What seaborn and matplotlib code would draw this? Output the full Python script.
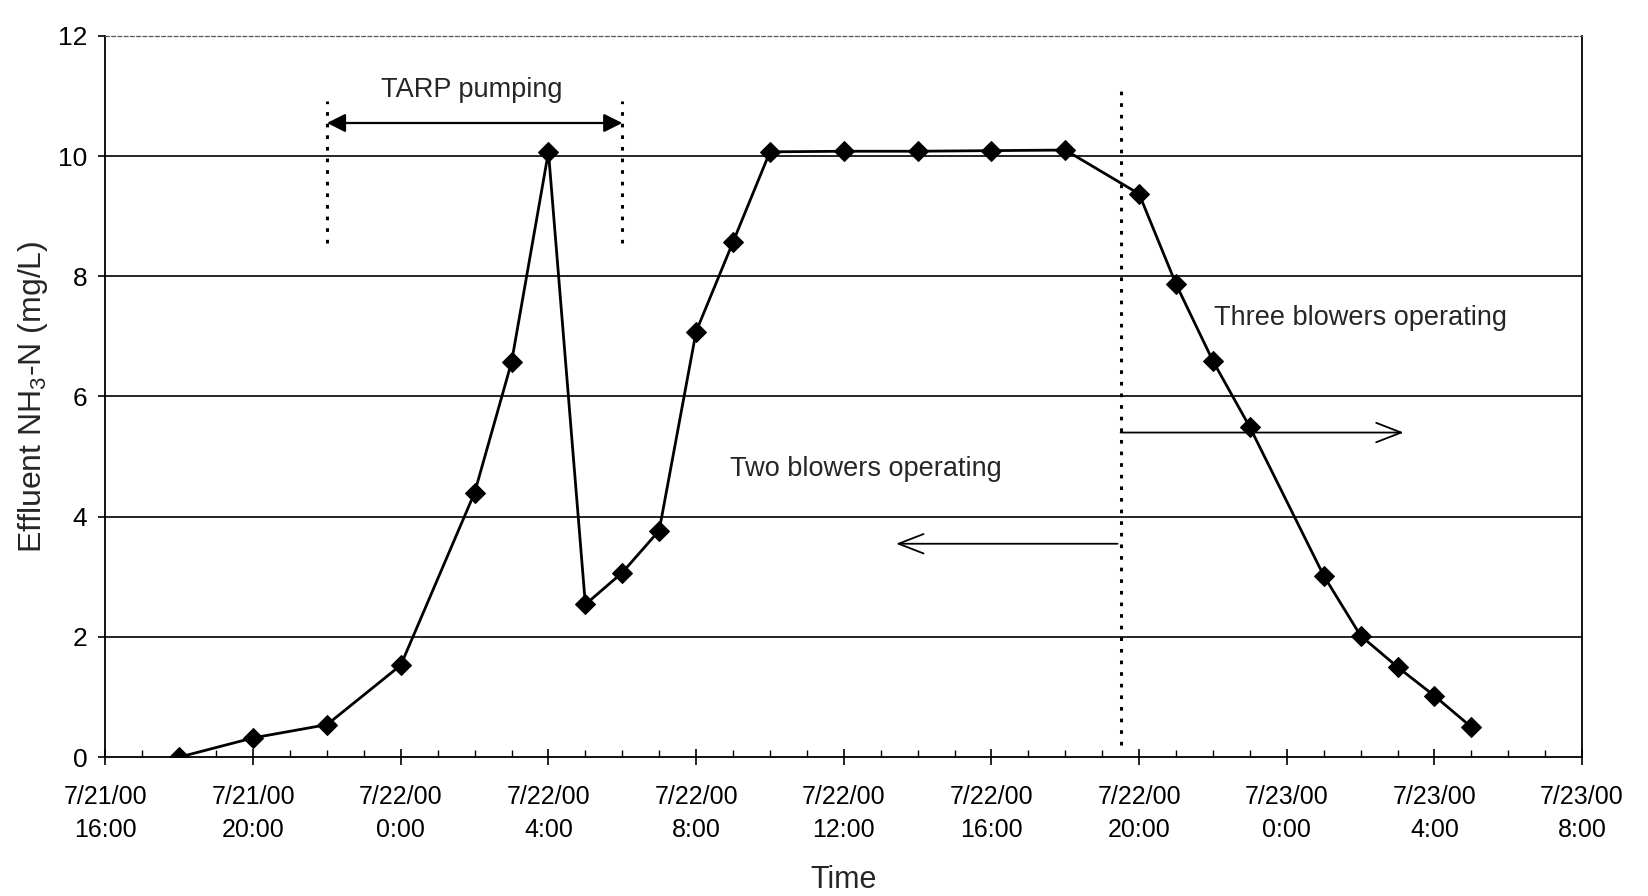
import matplotlib
matplotlib.use("Agg")
import matplotlib.pyplot as plt
import matplotlib.dates as mdates
from matplotlib.ticker import FuncFormatter
import seaborn as sns
import pandas as pd
from datetime import datetime

# ---- data ----
times = [
    "2000-07-21 18:00", "2000-07-21 20:00", "2000-07-21 22:00",
    "2000-07-22 00:00", "2000-07-22 02:00", "2000-07-22 03:00",
    "2000-07-22 04:00", "2000-07-22 05:00", "2000-07-22 06:00",
    "2000-07-22 07:00", "2000-07-22 08:00", "2000-07-22 09:00",
    "2000-07-22 10:00", "2000-07-22 12:00", "2000-07-22 14:00",
    "2000-07-22 16:00", "2000-07-22 18:00", "2000-07-22 20:00",
    "2000-07-22 21:00", "2000-07-22 22:00", "2000-07-22 23:00",
    "2000-07-23 01:00", "2000-07-23 02:00", "2000-07-23 03:00",
    "2000-07-23 04:00", "2000-07-23 05:00",
]
nh3 = [0.0, 0.32, 0.54, 1.53, 4.4, 6.57, 10.07, 2.54, 3.07, 3.77,
       7.08, 8.57, 10.07, 10.08, 10.08, 10.09, 10.1, 9.37, 7.87, 6.59,
       5.49, 3.02, 2.02, 1.5, 1.02, 0.5]
y_ticks = [0, 2, 4, 6, 8, 10, 12]

df = pd.DataFrame({"Time": pd.to_datetime(times), "NH3": nh3})

sns.set_style("white")
plt.rcParams["font.family"] = ["Liberation Sans", "DejaVu Sans"]
plt.rcParams["mathtext.fontset"] = "custom"
plt.rcParams["mathtext.rm"] = "Liberation Sans"

fig = plt.figure(figsize=(16.48, 8.96), dpi=100)
ax = fig.add_axes([0.064, 0.155, 0.896, 0.805])

sns.lineplot(data=df, x="Time", y="NH3", ax=ax, color="black", lw=2,
             marker="D", markersize=10.5, markeredgecolor="black",
             markerfacecolor="black")

# axes limits and ticks
ax.set_xlim(datetime(2000, 7, 21, 16), datetime(2000, 7, 23, 8))
ax.set_ylim(0, 12)
ax.set_yticks(y_ticks)
ax.xaxis.set_major_locator(mdates.HourLocator(byhour=[0, 4, 8, 12, 16, 20]))
ax.xaxis.set_minor_locator(mdates.HourLocator())


def fmt(v, pos):
    d = mdates.num2date(v)
    return f"{d.month}/{d.day}/{d:%y}\n{d.hour}:{d:%M}"


ax.xaxis.set_major_formatter(FuncFormatter(fmt))
ax.tick_params(axis="x", which="major", direction="inout", length=12,
               width=1.2, labelsize=18, pad=14, colors="black")
ax.tick_params(axis="x", which="minor", direction="in", length=5,
               width=1, colors="black")
ax.tick_params(axis="y", which="major", direction="out", length=5,
               width=1.2, labelsize=19, pad=8, colors="black")
ax.tick_params(bottom=True, left=True, which="both")
ax.tick_params(which="minor", left=False)
for tk in ax.xaxis.get_major_ticks():
    tk.label1.set_linespacing(1.5)

# grid
for g in [2, 4, 6, 8, 10]:
    ax.axhline(g, color="black", lw=1.2, zorder=0)

for s in ["left", "right", "bottom"]:
    ax.spines[s].set_color("black")
    ax.spines[s].set_linewidth(1.3)
ax.spines["top"].set_color("#555555")
ax.spines["top"].set_linewidth(0.9)
ax.spines["top"].set_linestyle((0, (3, 2)))

ax.set_ylabel("Effluent NH$_3$-N (mg/L)", fontsize=23, labelpad=6)
ax.set_xlabel("Time", fontsize=22, labelpad=16)

dot = (0, (1.2, 2.6))
# TARP pumping markers
t1 = datetime(2000, 7, 21, 22, 0)
t2 = datetime(2000, 7, 22, 6, 0)
for t in (t1, t2):
    ax.plot([t, t], [8.55, 10.92], color="black", lw=2.2, linestyle=dot)
ax.annotate("", xy=(t2, 10.55), xytext=(t1, 10.55),
            arrowprops=dict(arrowstyle="<|-|>", color="black", lw=1.6,
                            mutation_scale=28, shrinkA=0, shrinkB=0))
ax.text(datetime(2000, 7, 22, 1, 55), 11.1, "TARP pumping", fontsize=19.5,
        ha="center", va="center")

# blower change line
tb = datetime(2000, 7, 22, 19, 30)
ax.plot([tb, tb], [0.2, 11.1], color="black", lw=2.2, linestyle=dot)
ax.annotate("", xy=(datetime(2000, 7, 23, 3, 10), 5.4), xytext=(tb, 5.4),
            arrowprops=dict(arrowstyle="->,head_length=0.9,head_width=0.35",
                            color="black", lw=1.3, mutation_scale=20,
                            shrinkA=0, shrinkB=0))
ax.annotate("", xy=(datetime(2000, 7, 22, 13, 25), 3.55),
            xytext=(datetime(2000, 7, 22, 19, 25), 3.55),
            arrowprops=dict(arrowstyle="->,head_length=0.9,head_width=0.35",
                            color="black", lw=1.3, mutation_scale=20,
                            shrinkA=0, shrinkB=0))
ax.text(datetime(2000, 7, 22, 12, 36), 4.8, "Two blowers operating",
        fontsize=19.5, ha="center", va="center")
ax.text(datetime(2000, 7, 23, 2, 0), 7.3, "Three blowers operating",
        fontsize=19.5, ha="center", va="center")

fig.savefig("out.png", dpi=100, facecolor="white")
